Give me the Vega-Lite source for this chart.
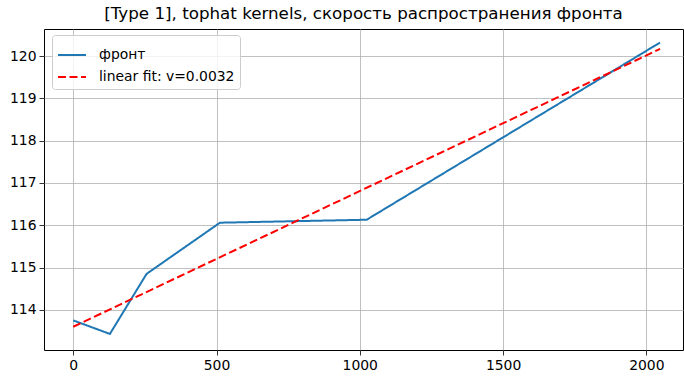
{
  "$schema": "https://vega.github.io/schema/vega-lite/v6.json",
  "autosize": {"type": "none"},
  "padding": {"left": 44, "top": 29, "right": 1, "bottom": 26},
  "width": 639,
  "height": 321,
  "background": "white",
  "title": {
    "text": "[Type 1], tophat kernels, скорость распространения фронта",
    "font": "DejaVu Sans",
    "fontSize": 16.7,
    "fontWeight": "normal",
    "color": "black",
    "anchor": "middle",
    "offset": 6
  },
  "config": {
    "font": "DejaVu Sans",
    "view": {"stroke": "black", "strokeWidth": 1},
    "axis": {
      "grid": true,
      "gridColor": "#b0b0b0",
      "gridWidth": 0.8,
      "domain": false,
      "tickColor": "black",
      "tickSize": 5,
      "tickWidth": 0.8,
      "labelFont": "DejaVu Sans",
      "labelFontSize": 13.9,
      "labelColor": "black",
      "labelPadding": 3,
      "title": null
    }
  },
  "datasets": {
    "front": [
      {"x": 0, "y": 113.75, "series": "фронт"},
      {"x": 128, "y": 113.43, "series": "фронт"},
      {"x": 256, "y": 114.85, "series": "фронт"},
      {"x": 512, "y": 116.06, "series": "фронт"},
      {"x": 1024, "y": 116.13, "series": "фронт"},
      {"x": 2048, "y": 120.32, "series": "фронт"}
    ],
    "fit": [
      {"x": 0, "y": 113.6, "series": "linear fit: v=0.0032"},
      {"x": 2048, "y": 120.17, "series": "linear fit: v=0.0032"}
    ]
  },
  "layer": [
    {
      "data": {"name": "front"},
      "mark": {"type": "line", "strokeWidth": 2, "clip": true},
      "encoding": {
        "x": {"field": "x", "type": "quantitative", "scale": {"domain": [-102, 2128], "nice": false, "zero": false}, "axis": {"values": [0, 500, 1000, 1500, 2000], "format": "d"}},
        "y": {"field": "y", "type": "quantitative", "scale": {"domain": [113.05, 120.64], "nice": false, "zero": false}, "axis": {"values": [114, 115, 116, 117, 118, 119, 120], "format": "d"}},
        "color": {"field": "series", "type": "nominal", "scale": {"domain": ["фронт", "linear fit: v=0.0032"], "range": ["#1f77b4", "#ff0000"]}, "legend": {
          "title": null, "orient": "none", "legendX": 8, "legendY": 6,
          "symbolType": "stroke", "symbolSize": 784, "symbolStrokeWidth": 2,
          "labelFont": "DejaVu Sans", "labelFontSize": 13.9, "labelColor": "black",
          "fillColor": "rgba(255,255,255,0.8)", "strokeColor": "#cccccc", "cornerRadius": 3, "padding": 5,
          "rowPadding": -6, "labelOffset": 12
        }},
        "strokeDash": {"field": "series", "type": "nominal", "scale": {"domain": ["фронт", "linear fit: v=0.0032"], "range": [[1, 0], [8, 3.5]]}, "legend": null}
      }
    },
    {
      "data": {"name": "fit"},
      "mark": {"type": "line", "strokeWidth": 2, "clip": true},
      "encoding": {
        "x": {"field": "x", "type": "quantitative"},
        "y": {"field": "y", "type": "quantitative"},
        "color": {"field": "series", "type": "nominal"},
        "strokeDash": {"field": "series", "type": "nominal"}
      }
    }
  ]
}
